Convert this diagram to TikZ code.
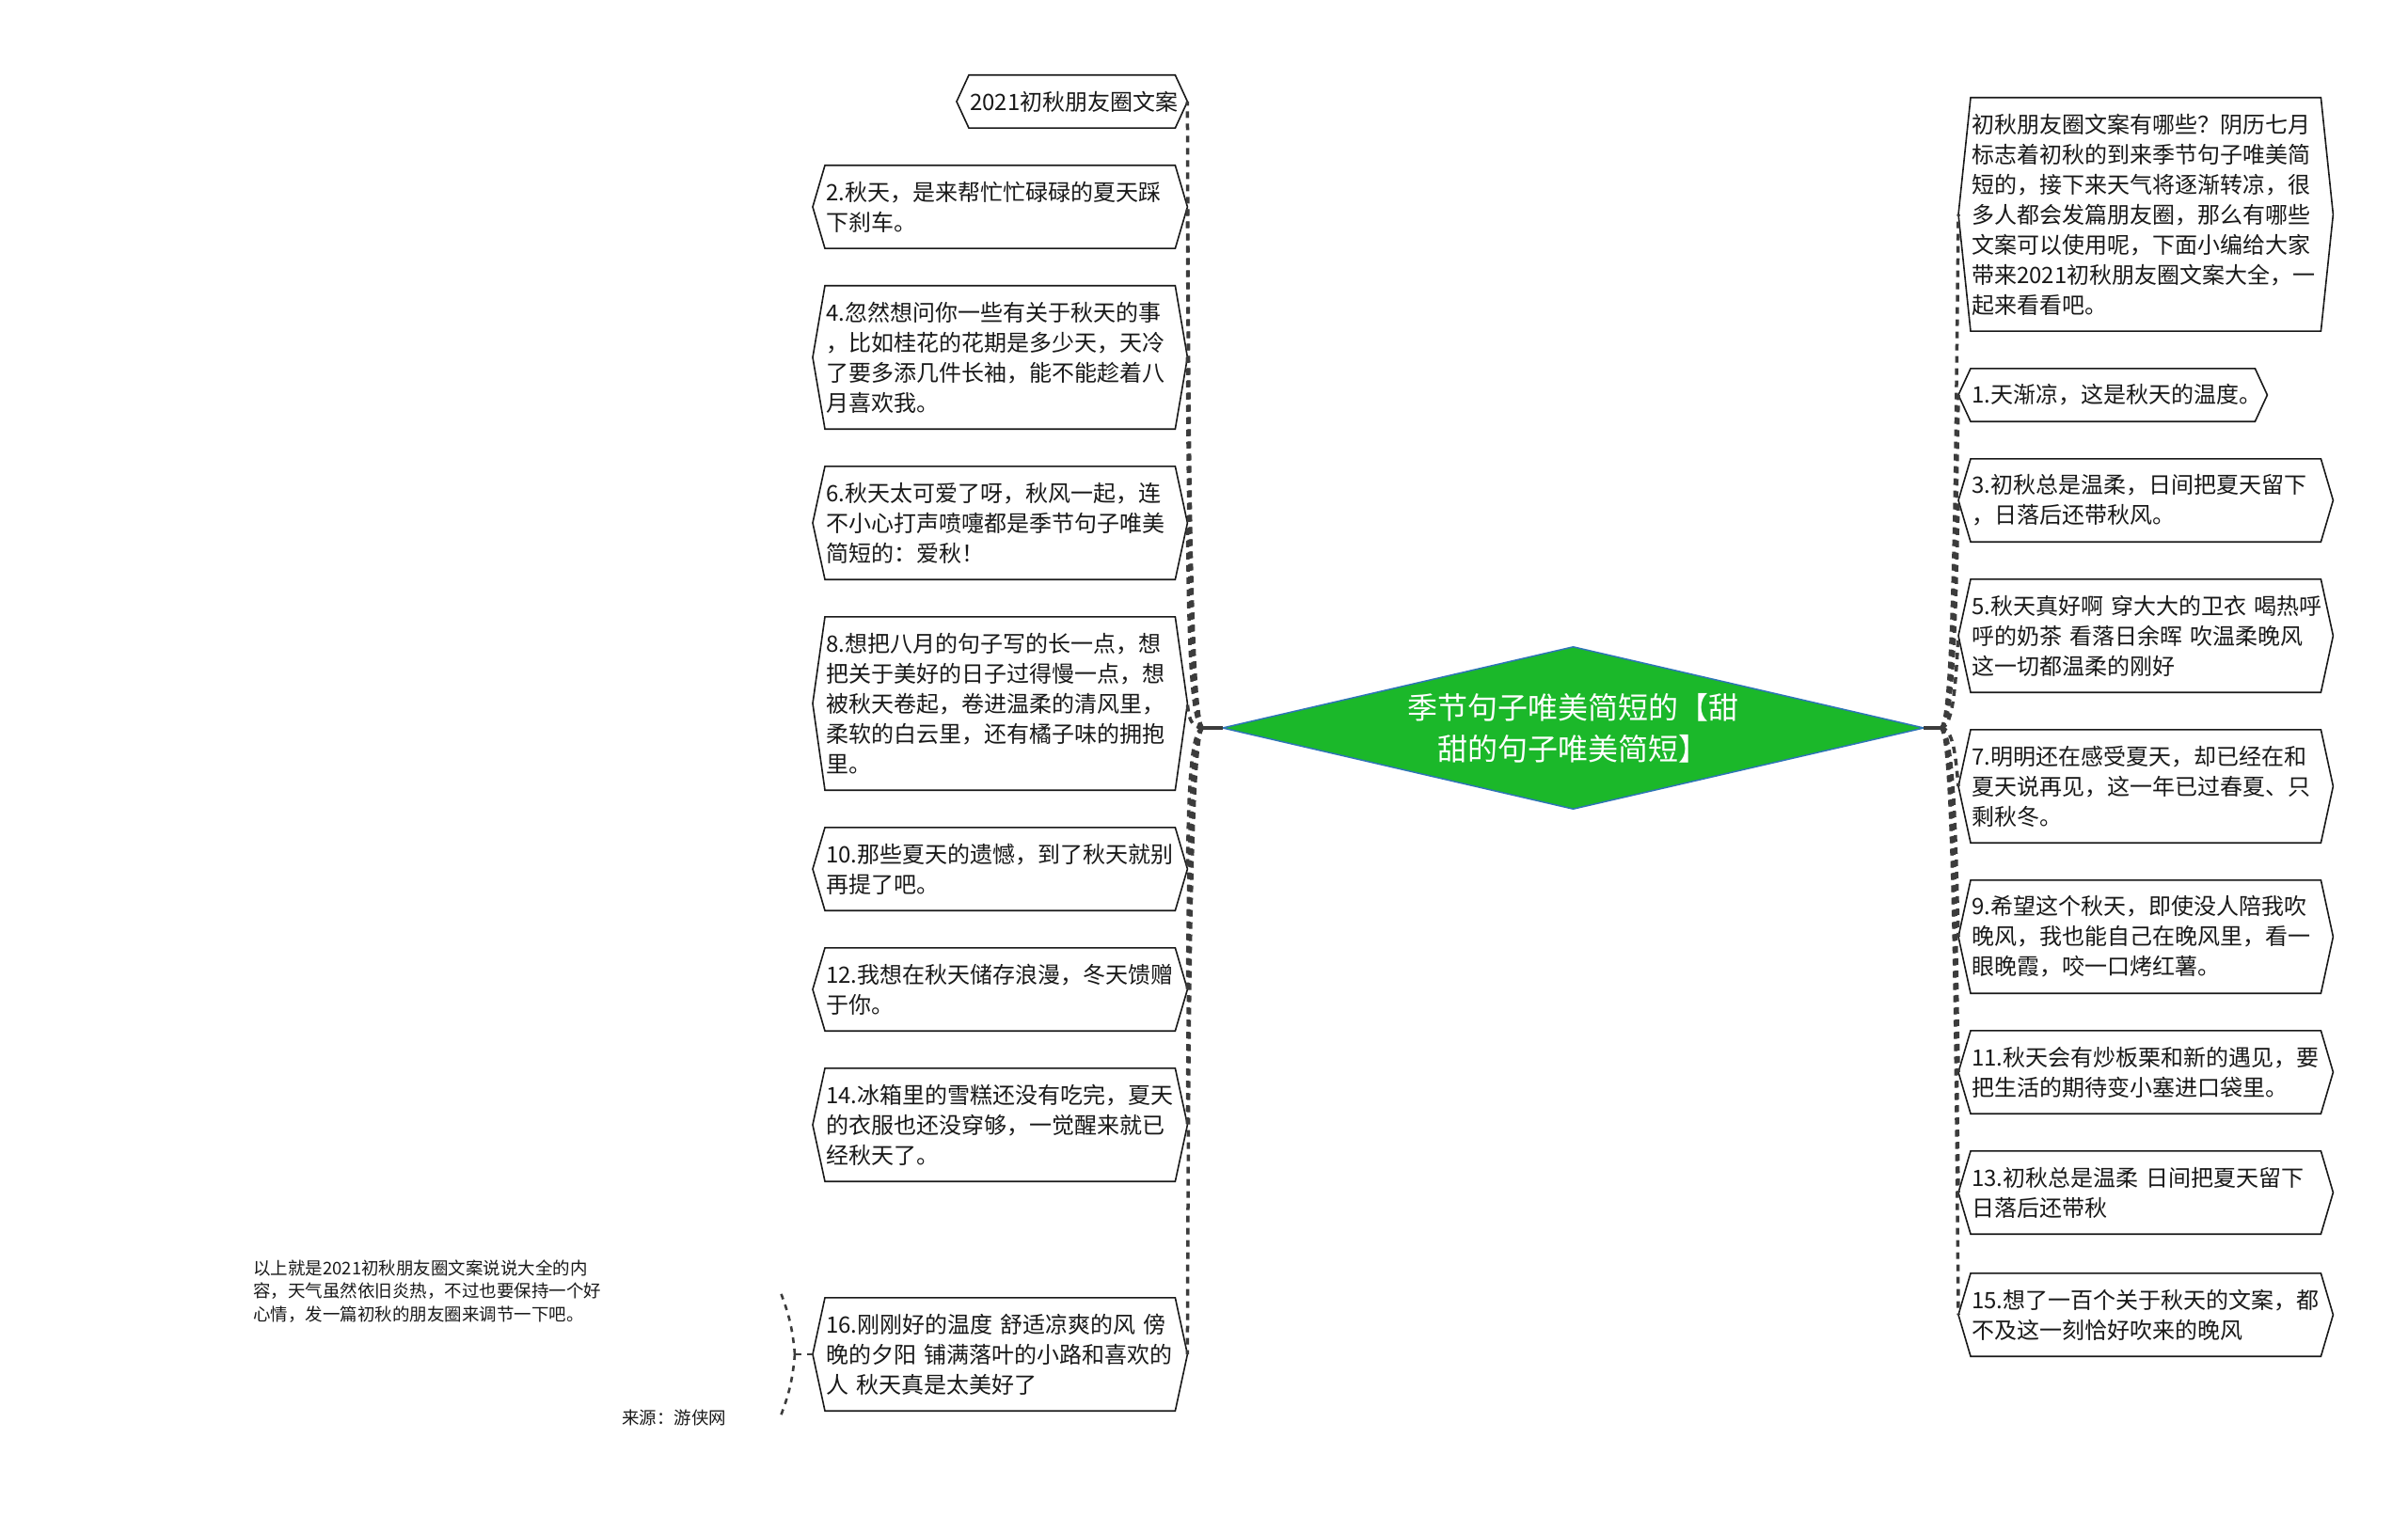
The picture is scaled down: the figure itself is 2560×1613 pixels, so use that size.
\documentclass[tikz,border=0pt]{standalone}
\usepackage{fontspec}
\setmainfont{Noto Sans CJK SC}
\usetikzlibrary{calc}
\definecolor{rootgreen}{RGB}{27,184,42}
\definecolor{rootblue}{RGB}{46,117,182}
\definecolor{connc}{RGB}{60,60,60}
\definecolor{inkc}{RGB}{25,25,25}
\newcommand\hexagonof[1]{\draw[hexline] (#1.north west) -- (#1.north east) -- ([xshift=13pt]#1.east) -- (#1.south east) -- (#1.south west) -- ([xshift=-13pt]#1.west) -- cycle;}
\begin{document}
\begin{tikzpicture}[x=1pt,y=-1pt,
  leaf/.style={inner xsep=1pt,inner ysep=0pt,anchor=west,align=left,text width=370pt,text=inkc,font=\fontsize{24}{32}\selectfont},
  note/.style={inner sep=0pt,anchor=west,align=left,text=inkc,font=\fontsize{18.5}{24.5}\selectfont},
  hexline/.style={draw=inkc,line width=1.6pt,line join=miter},
  conn/.style={draw=connc,line width=3.5pt,dash pattern=on 7pt off 6pt},
  conntwo/.style={draw=connc,line width=2.6pt,dash pattern=on 6pt off 6pt},
  stem/.style={draw=connc,line width=3.5pt}]
\fill[white] (0,0) rectangle (2560,1613);
\useasboundingbox (0,0) rectangle (2560,1613);

% root diamond
\node[inner sep=0pt,minimum width=745pt,minimum height=172pt] (root) at (1672.5,774) {};
\filldraw[fill=rootgreen,draw=rootblue,line width=1.5pt] (root.west) -- (root.north) -- (root.east) -- (root.south) -- cycle;
\node[text=white,align=center,inner sep=0pt,font=\fontsize{32}{44}\selectfont] (rootlabel) at (root.center) {季节句子唯美简短的【甜\\甜的句子唯美简短】};

% left leaves
\node[leaf,text width=217pt,minimum height=56pt] (L0) at (1030,108) {2021初秋朋友圈文案};
\node[leaf,minimum height=88pt] (L1) at (877,220) {2.秋天，是来帮忙忙碌碌的夏天踩\\下刹车。};
\node[leaf,minimum height=152pt] (L2) at (877,380) {4.忽然想问你一些有关于秋天的事\\，比如桂花的花期是多少天，天冷\\了要多添几件长袖，能不能趁着八\\月喜欢我。};
\node[leaf,minimum height=120pt] (L3) at (877,556) {6.秋天太可爱了呀，秋风一起，连\\不小心打声喷嚏都是季节句子唯美\\简短的：爱秋！};
\node[leaf,minimum height=184pt] (L4) at (877,748) {8.想把八月的句子写的长一点，想\\把关于美好的日子过得慢一点，想\\被秋天卷起，卷进温柔的清风里，\\柔软的白云里，还有橘子味的拥抱\\里。};
\node[leaf,minimum height=88pt] (L5) at (877,924) {10.那些夏天的遗憾，到了秋天就别\\再提了吧。};
\node[leaf,minimum height=88pt] (L6) at (877,1052) {12.我想在秋天储存浪漫，冬天馈赠\\于你。};
\node[leaf,minimum height=120pt] (L7) at (877,1196) {14.冰箱里的雪糕还没有吃完，夏天\\的衣服也还没穿够，一觉醒来就已\\经秋天了。};
\node[leaf,minimum height=120pt] (L8) at (877,1440) {16.刚刚好的温度~舒适凉爽的风~傍\\晚的夕阳~铺满落叶的小路和喜欢的\\人~秋天真是太美好了};

% right leaves
\node[leaf,minimum height=248pt] (R0) at (2095,228) {初秋朋友圈文案有哪些？阴历七月\\标志着初秋的到来季节句子唯美简\\短的，接下来天气将逐渐转凉，很\\多人都会发篇朋友圈，那么有哪些\\文案可以使用呢，下面小编给大家\\带来2021初秋朋友圈文案大全，一\\起来看看吧。};
\node[leaf,text width=300pt,minimum height=56pt] (R1) at (2095,420) {1.天渐凉，这是秋天的温度。};
\node[leaf,minimum height=88pt] (R2) at (2095,532) {3.初秋总是温柔，日间把夏天留下\\，日落后还带秋风。};
\node[leaf,minimum height=120pt] (R3) at (2095,676) {5.秋天真好啊~穿大大的卫衣~喝热呼\\呼的奶茶~看落日余晖~吹温柔晚风\\这一切都温柔的刚好};
\node[leaf,minimum height=120pt] (R4) at (2095,836) {7.明明还在感受夏天，却已经在和\\夏天说再见，这一年已过春夏、只\\剩秋冬。};
\node[leaf,minimum height=120pt] (R5) at (2095,996) {9.希望这个秋天，即使没人陪我吹\\晚风，我也能自己在晚风里，看一\\眼晚霞，咬一口烤红薯。};
\node[leaf,minimum height=88pt] (R6) at (2095,1140) {11.秋天会有炒板栗和新的遇见，要\\把生活的期待变小塞进口袋里。};
\node[leaf,minimum height=88pt] (R7) at (2095,1268) {13.初秋总是温柔~日间把夏天留下\\日落后还带秋};
\node[leaf,minimum height=88pt] (R8) at (2095,1398) {15.想了一百个关于秋天的文案，都\\不及这一刻恰好吹来的晚风};

% notes under node 16
\node[note,text width=560pt] (N1) at (269,1373) {以上就是2021初秋朋友圈文案说说大全的内\\容，天气虽然依旧炎热，不过也要保持一个好\\心情，发一篇初秋的朋友圈来调节一下吧。};
\node[note,text width=168pt] (N2) at (661,1507) {来源：游侠网};

% hexagon outlines
\foreach \n in {L0,L1,L2,L3,L4,L5,L6,L7,L8,R0,R1,R2,R3,R4,R5,R6,R7,R8} {\hexagonof{\n}}

% connectors
\coordinate (Lhub) at (1279,774);
\coordinate (Rhub) at (2063,774);
\draw[stem] (root.west) -- (Lhub);
\draw[stem] (root.east) -- (Rhub);
\foreach \n in {L0,L1,L2,L3,L4,L5,L6,L7,L8} {
  \coordinate (t\n) at ([xshift=13pt]\n.east);
  \draw[conn] (Lhub) .. controls ($(t\n |- Lhub)+(3,0)$) and ($(t\n |- Lhub)!0.5!(t\n)+(1,0)$) .. (t\n);
}
\foreach \n in {R0,R1,R2,R3,R4,R5,R6,R7,R8} {
  \coordinate (t\n) at ([xshift=-13pt]\n.west);
  \draw[conn] (Rhub) .. controls ($(t\n |- Rhub)+(-5,0)$) and ($(t\n |- Rhub)!0.5!(t\n)+(-3,0)$) .. (t\n);
}
\coordinate (wL8) at ([xshift=-13pt]L8.west);
\coordinate (Bhub) at (845,1440);
\draw[conntwo] (wL8) -- (Bhub);
\draw[conntwo] (Bhub) to[bend right=8] (N1.east);
\draw[conntwo] (Bhub) to[bend left=8] (N2.east);
\end{tikzpicture}
\end{document}
